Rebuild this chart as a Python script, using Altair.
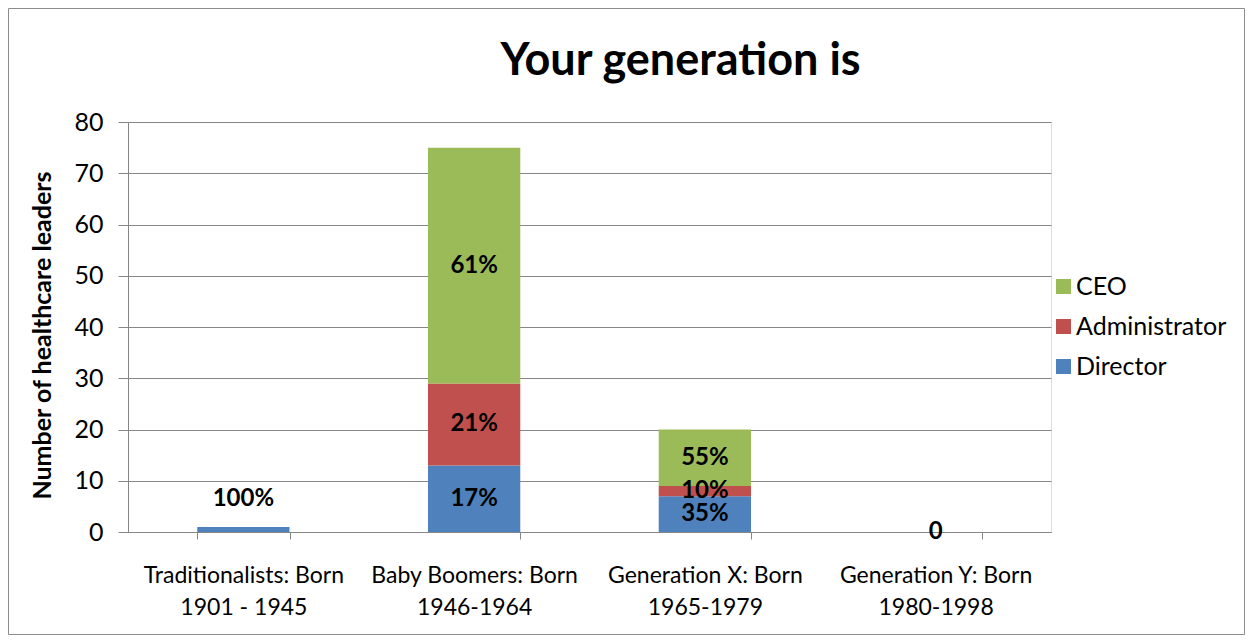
import altair as alt
import pandas as pd

# ---- data ----
generations = [
    "Traditionalists:  Born|1901 - 1945",
    "Baby Boomers:  Born|1946-1964",
    "Generation X:  Born|1965-1979",
    "Generation Y:  Born|1980-1998",
]
roles = ["Director", "Administrator", "CEO"]          # stack order, bottom -> top
director = [1, 13, 7, 0]
administrator = [0, 16, 2, 0]
ceo = [0, 46, 11, 0]
director_lbl = ["100%", "17%", "35%", "0"]
administrator_lbl = ["", "21%", "10%", ""]
ceo_lbl = ["", "61%", "55%", ""]

legend_order = ["CEO", "Administrator", "Director"]
colors = ["#9BBB59", "#C0504D", "#4F81BD"]

rows = []
for i, g in enumerate(generations):
    for k, (r, vals, lbls) in enumerate(zip(roles, [director, administrator, ceo],
                                             [director_lbl, administrator_lbl, ceo_lbl])):
        rows.append({"gen": g, "role": r, "value": vals[i], "rank": k, "label": lbls[i]})
df = pd.DataFrame(rows)

FONT = "Lato"
GRAY = "#868686"

x_enc = alt.X(
    "gen:N", sort=generations, title=None,
    scale=alt.Scale(paddingInner=0.6, paddingOuter=0.3),
    axis=alt.Axis(
        labelExpr="split(datum.label, '|')", labelAngle=0, labelFontSize=23,
        labelLineHeight=32, labelPadding=25, labelLimit=400, labelColor="#000000",
        labelFont=FONT, tickBand="extent", tickSize=7, tickColor=GRAY,
        domainColor=GRAY, grid=False,
    ),
)

bars = alt.Chart(df).mark_bar().encode(
    x=x_enc,
    y=alt.Y(
        "sum(value):Q", title="Number of healthcare leaders",
        scale=alt.Scale(domain=[0, 80], nice=False),
        axis=alt.Axis(
            values=[0, 10, 20, 30, 40, 50, 60, 70, 80], labelFontSize=25,
            labelFont=FONT, labelColor="#000000", labelPadding=15,
            tickSize=10, tickColor=GRAY, domainColor=GRAY, gridColor=GRAY,
            titleFontSize=25, titleFont=FONT, titleFontWeight="bold",
            titleColor="#000000", titlePadding=18, titleY=213,
        ),
    ),
    color=alt.Color(
        "role:N", scale=alt.Scale(domain=legend_order, range=colors),
        legend=alt.Legend(
            title=None, orient="none", legendX=923, legendY=152,
            symbolType="square", symbolSize=225, symbolStrokeWidth=0,
            labelFontSize=25, labelFont=FONT, labelColor="#000000",
            labelOffset=0, rowPadding=14, padding=0,
        ),
    ),
    order=alt.Order("rank:Q", sort="ascending"),
)

stacked = alt.Chart(df).transform_stack(
    stack="value", groupby=["gen"], as_=["y0", "y1"],
    sort=[alt.SortField("rank", order="ascending")],
).transform_calculate(mid="(datum.y0 + datum.y1) / 2")

text_style = dict(fontSize=24, fontWeight="bold", font=FONT, color="#000000")

labels_mid = stacked.transform_filter(
    "datum.label != '' && !(datum.value > 0 && datum.value < 2)"
).mark_text(baseline="middle", **text_style).encode(
    x=alt.X("gen:N", sort=generations),
    y=alt.Y("mid:Q"),
    text="label:N",
)

labels_small = stacked.transform_filter(
    "datum.label != '' && datum.value > 0 && datum.value < 2"
).mark_text(baseline="bottom", dy=-16, **text_style).encode(
    x=alt.X("gen:N", sort=generations),
    y=alt.Y("y1:Q"),
    text="label:N",
)

border = alt.Chart(alt.Data(values=[{}])).mark_rect(
    fill=None, stroke="#8C8C8C", strokeWidth=1
).encode(
    x=alt.value(-119.5), x2=alt.value(1116.5),
    y=alt.value(-113.5), y2=alt.value(512.5),
)

chart = alt.layer(bars, labels_mid, labels_small, border).properties(
    width=923, height=410,
    title=alt.TitleParams(
        "Your generation is", fontSize=45, font=FONT, fontWeight="bold",
        color="#000000", anchor="middle", frame="group", dx=91,
        baseline="alphabetic", offset=-112,
    ),
    autosize=alt.AutoSizeParams(type="none"),
    padding={"left": 120, "top": 114, "right": 194, "bottom": 103},
).configure_view(strokeWidth=0).configure(background="white")

chart.save("out.html", embed_options={"renderer": "svg", "actions": False})
